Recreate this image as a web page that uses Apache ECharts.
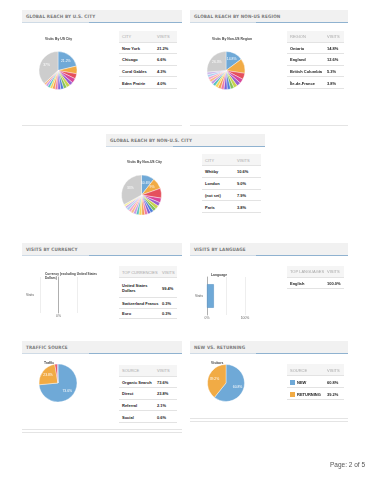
<!DOCTYPE html>
<html><head><meta charset="utf-8">
<script src="https://cdn.jsdelivr.net/npm/echarts@6/dist/echarts.min.js"></script>
<style>
html,body{margin:0;padding:0;background:#fff;width:371px;height:480px;overflow:hidden;font-family:"Liberation Sans",Arial,sans-serif;}
#chart{position:absolute;left:0;top:0;width:371px;height:480px;z-index:1;}
.hdr{position:absolute;height:13px;background:#f1f1f1;border-bottom:1px solid #8fb2d0;box-sizing:border-box;z-index:2;}
.hdr .lt{position:absolute;left:0;bottom:-1px;height:1px;width:42%;background:#cfdbe6;}
.hdr span{position:absolute;left:4px;top:3.5px;font-family:"DejaVu Sans Condensed","Liberation Sans Narrow",sans-serif;font-weight:bold;font-size:4.6px;color:#7a7a7a;letter-spacing:0.15px;white-space:nowrap;}
.tbl{position:absolute;z-index:2;background:#fff;}
.tbl .row{position:relative;border-bottom:0.6px solid #e3e3e3;box-sizing:border-box;}
.tbl .head{background:#f5f5f5;}
.tbl .head div{color:#a8a8a8;font-weight:normal;}
.tbl .c1,.tbl .c2{position:absolute;font-size:4px;line-height:5px;font-weight:bold;color:#222;white-space:nowrap;}
.sw{display:inline-block;width:5px;height:5px;vertical-align:middle;margin-right:2px;}
.line{position:absolute;height:0.6px;background:#e4e4e4;z-index:2;}
#page{position:absolute;left:330px;top:461px;font-size:6.5px;color:#555;z-index:2;}
</style></head>
<body>
<div id="chart"></div>
<div id="page">Page: 2 of 5</div>
<script>
// ---------- data ----------
const usCityNames = ['New York','Chicago','Coral Gables','Eden Prairie','City 5','City 6','City 7','City 8','City 9','City 10','City 11','City 12','City 13','City 14','City 15','Other'];
const usCityValues = [21.2,6.6,4.3,4.0,3.2,3.0,2.8,2.6,2.5,2.4,2.3,2.2,2.1,2.0,1.8,37];
const usCityRows = ['New York','Chicago','Coral Gables','Eden Prairie'];
const usCityVisits = ['21.2%','6.6%','4.3%','4.0%'];

const regionNames = ['Ontario','England','British Columbia','Île-de-France','R5','R6','R7','R8','R9','R10','R11','R12','R13','R14','R15','R16','R17','R18','Other'];
const regionValues = [14.8,12.6,5.3,3.8,3.4,3.2,3.0,2.9,2.8,2.7,2.6,2.6,2.5,2.4,2.4,2.3,2.2,2.2,26.3];
const regionRows = ['Ontario','England','British Columbia','Île-de-France'];
const regionVisits = ['14.8%','12.6%','5.3%','3.8%'];

const nonUsCityNames = ['Whitby','London','(not set)','Paris','C5','C6','C7','C8','C9','C10','C11','C12','C13','C14','C15','C16','C17','C18','C19','Other'];
const nonUsCityValues = [10.6,9.0,7.9,3.8,3.0,2.8,2.7,2.6,2.5,2.5,2.4,2.4,2.3,2.3,2.2,2.2,2.1,2.0,1.7,33];
const nonUsCityRows = ['Whitby','London','(not set)','Paris'];
const nonUsCityVisits = ['10.6%','9.0%','7.9%','3.8%'];

const currencyCategories = ['Visits'];
const currencyValues = [0];
const currencyRows = ['United States<br>Dollars','Switzerland Francs','Euro'];
const currencyVisits = ['99.4%','0.3%','0.3%'];

const languageCategories = ['Visits'];
const languageValues = [18];
const languageRows = ['English'];
const languageVisits = ['100.0%'];

const trafficNames = ['Organic Search','Direct','Referral','Social'];
const trafficValues = [73.6,23.8,2.1,0.6];
const trafficVisits = ['73.6%','23.8%','2.1%','0.6%'];

const visitorNames = ['NEW','RETURNING'];
const visitorValues = [60.8,39.2];
const visitorVisits = ['60.8%','39.2%'];

// ---------- styles ----------
const palette = ['#6fa9d7','#f1ab45','#e5505c','#d9469a','#9b5fcf','#c8d34d','#86c25a','#4f7fd8','#7b62d9','#ec7aa8','#f59a52','#f3d85a','#5cc3c0','#c79ae6','#f7b98b','#f4a6c5','#a9cdf0','#cbb6e8','#f9ef9f','#b7dd9a'];
const otherGray = '#cdcdcd';

function pieData(names, values, colors){
  return names.map((n,i)=>({name:n,value:values[i],itemStyle:{color: n==='Other'?otherGray:colors[i%colors.length]}}));
}
function pie(center, r, names, values, labelMin, colors){
  return {type:'pie', center:center, radius:r, startAngle:90, clockwise:true, animation:false,
    silent:true, data:pieData(names, values, colors||palette),
    itemStyle:{borderColor:'#fff',borderWidth:0.4},
    label:{show:true, position:'inside', fontSize:3.4, color:'#fff', fontFamily:'Liberation Sans',
      formatter:p=> p.value>=labelMin ? (p.value%1===0? p.value+'%' : p.value.toFixed(1)+'%') : ''},
    labelLine:{show:false}};
}
function ttl(text, x, y){
  return {text:text, left:x, top:y, textStyle:{fontSize:3.4, fontWeight:'bold', color:'#444', fontFamily:'Liberation Sans'}};
}

const chart = echarts.init(document.getElementById('chart'), null, {renderer:'canvas'});
chart.setOption({
  animation:false,
  title:[
    ttl('Visits By US City',40,33),
    ttl('Visits By Non-US Region',207,33),
    ttl('Visits By Non-US City',122,156),
    {text:'Currency (excluding United States\nDollars)', left:40, top:267, textStyle:{fontSize:3.2,fontWeight:'bold',color:'#444',lineHeight:3.8}},
    ttl('Language',206,269),
    ttl('Traffic',39,357),
    ttl('Visitors',206,357)
  ],
  grid:[
    {left:40, top:277, width:37, height:36},
    {left:207, top:277, width:38, height:38}
  ],
  xAxis:[
    {gridIndex:0, type:'value', min:-1, max:1, interval:1,
      axisLine:{show:false}, axisTick:{show:false},
      splitLine:{lineStyle:{color:'#e2e2e2',width:0.6}},
      axisLabel:{fontSize:3.4,color:'#666',margin:2,formatter:v=>v===0?'0%':''}},
    {gridIndex:1, type:'value', min:0, max:100, interval:50,
      axisLine:{show:false}, axisTick:{show:false},
      splitLine:{lineStyle:{color:'#e2e2e2',width:0.6}},
      axisLabel:{fontSize:3.4,color:'#666',margin:2,formatter:v=>v===0?'0%':(v===100?'100%':'')}}
  ],
  yAxis:[
    {gridIndex:0, type:'category', data:currencyCategories,
      axisLine:{lineStyle:{color:'#a0a0a0',width:0.8}}, axisTick:{show:false},
      axisLabel:{fontSize:3.4,color:'#555',margin:6}},
    {gridIndex:1, type:'category', data:languageCategories,
      axisLine:{lineStyle:{color:'#a0a0a0',width:0.8}}, axisTick:{show:false},
      axisLabel:{fontSize:3.4,color:'#555',margin:4}}
  ],
  series:[
    pie([58,70.5],19,usCityNames,usCityValues,15),
    pie([226,70.5],19,regionNames,regionValues,14),
    pie([141.5,195],20,nonUsCityNames,nonUsCityValues,8.5),
    pie([58,383],19,trafficNames,trafficValues,20,['#6fa9d7','#f1ab45','#e5505c','#9b5fcf']),
    pie([226,383],18.5,visitorNames,visitorValues,20,['#6fa9d7','#f1ab45']),
    {type:'bar', xAxisIndex:0, yAxisIndex:0, data:currencyValues, barWidth:'62%',
      itemStyle:{color:'#6fa9d7',borderWidth:0}, silent:true},
    {type:'bar', xAxisIndex:1, yAxisIndex:1, data:languageValues, barWidth:'62%',
      itemStyle:{color:'#6fa9d7',borderColor:'#4f8cc0',borderWidth:0.5}, silent:true}
  ]
});

// ---------- HTML headers & tables ----------
function header(text, x, y, w){
  const d=document.createElement('div'); d.className='hdr';
  d.style.left=x+'px'; d.style.top=y+'px'; d.style.width=w+'px';
  d.innerHTML='<div class="lt"></div><span>'+text+'</span>';
  document.body.appendChild(d);
}
function line(x,y,w){
  const d=document.createElement('div'); d.className='line';
  d.style.left=x+'px'; d.style.top=y+'px'; d.style.width=w+'px';
  document.body.appendChild(d);
}
function table(x, y, w, valX, head, labels, values, heights, swatches){
  const t=document.createElement('div'); t.className='tbl';
  t.style.left=x+'px'; t.style.top=y+'px'; t.style.width=w+'px';
  const rows=[head].concat(labels.map((l,i)=>[l,values[i]]));
  rows.forEach((r,i)=>{
    const h=heights[i];
    const row=document.createElement('div'); row.className='row'+(i===0?' head':'');
    row.style.height=h+'px';
    let lab=r[0];
    if(i>0 && swatches) lab='<span class="sw" style="background:'+swatches[i-1]+'"></span>'+lab;
    const c1=document.createElement('div'); c1.className='c1'; c1.innerHTML=lab;
    c1.style.left='3px';
    const c2=document.createElement('div'); c2.className='c2'; c2.textContent=r[1];
    c2.style.left=valX+'px';
    row.appendChild(c1); row.appendChild(c2);
    t.appendChild(row);
    const lines = (r[0].match(/<br>/g)||[]).length+1;
    c1.style.top=((h-5*lines)/2)+'px';
    c2.style.top=((h-5)/2)+'px';
  });
  document.body.appendChild(t);
}

header('GLOBAL REACH BY U.S. CITY',22,10,160);
header('GLOBAL REACH BY NON-US REGION',190,10,158);
header('GLOBAL REACH BY NON-U.S. CITY',106,134,159);
header('VISITS BY CURRENCY',22,243,160);
header('VISITS BY LANGUAGE',190,243,158);
header('TRAFFIC SOURCE',22,341,160);
header('NEW VS. RETURNING',190,341,158);

line(22,124.5,160); line(190,124.5,158);
line(22,429,160); line(22,432,160);
line(190,418,158); line(190,421,158);

table(119,31,58,38,['CITY','VISITS'],usCityRows,usCityVisits,[11.5,11.6,11.6,11.6,11.6]);
table(287,31,57,40,['REGION','VISITS'],regionRows,regionVisits,[11.5,11.6,11.6,11.6,11.6]);
table(202,154,59,35,['CITY','VISITS'],nonUsCityRows,nonUsCityVisits,[12,11.8,11.8,11.8,11.8]);
table(119,266,58,43,['TOP CURRENCIES','VISITS'],currencyRows,currencyVisits,[12,20,10.5,10.5]);
table(287,266,57,40,['TOP LANGUAGES','VISITS'],languageRows,languageVisits,[11.5,11.5]);
table(119,365,58,38,['SOURCE','VISITS'],trafficNames,trafficVisits,[11.5,11.6,11.6,11.6,11.6]);
table(287,364,57,40,['SOURCE','VISITS'],visitorNames,visitorVisits,[12,12,12],['#6fa9d7','#f1ab45']);
</script>
</body></html>
